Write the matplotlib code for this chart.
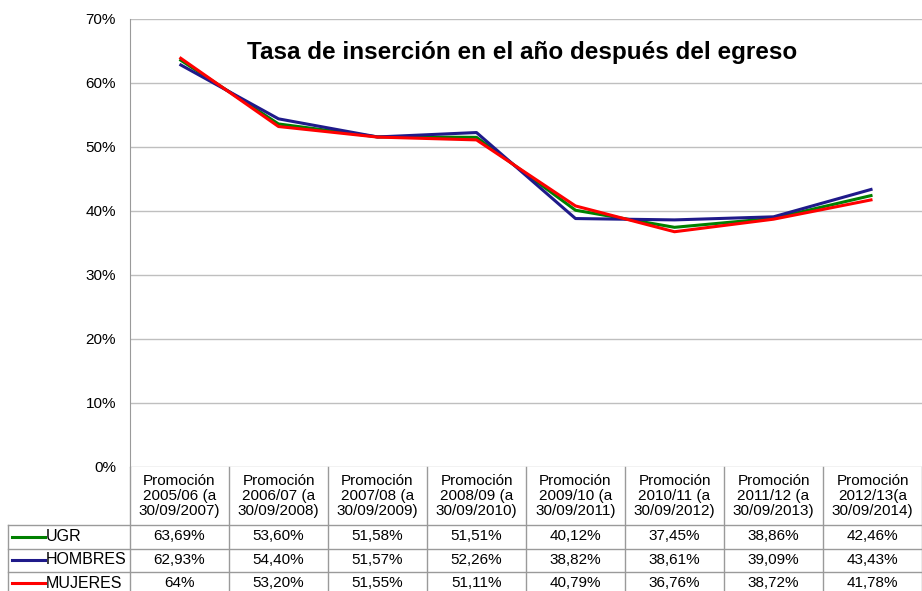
import numpy as np
import matplotlib.pyplot as plt
from matplotlib.ticker import FuncFormatter

plt.rcParams["font.family"] = ["Liberation Sans", "DejaVu Sans"]

categories = [
    "Promoción\n2005/06 (a\n30/09/2007)",
    "Promoción\n2006/07 (a\n30/09/2008)",
    "Promoción\n2007/08 (a\n30/09/2009)",
    "Promoción\n2008/09 (a\n30/09/2010)",
    "Promoción\n2009/10 (a\n30/09/2011)",
    "Promoción\n2010/11 (a\n30/09/2012)",
    "Promoción\n2011/12 (a\n30/09/2013)",
    "Promoción\n2012/13(a\n30/09/2014)",
]
series_names = ["UGR", "HOMBRES", "MUJERES"]
ugr = [63.69, 53.60, 51.58, 51.51, 40.12, 37.45, 38.86, 42.46]
hombres = [62.93, 54.40, 51.57, 52.26, 38.82, 38.61, 39.09, 43.43]
mujeres = [64.0, 53.20, 51.55, 51.11, 40.79, 36.76, 38.72, 41.78]
ugr_labels = ["63,69%", "53,60%", "51,58%", "51,51%", "40,12%", "37,45%", "38,86%", "42,46%"]
hombres_labels = ["62,93%", "54,40%", "51,57%", "52,26%", "38,82%", "38,61%", "39,09%", "43,43%"]
mujeres_labels = ["64%", "53,20%", "51,55%", "51,11%", "40,79%", "36,76%", "38,72%", "41,78%"]

colors = ["#008000", "#1F1A8A", "#FF0000"]
grid_col = "#BFBFBF"
axis_col = "#9A9A9A"

W, H = 922, 591
fig = plt.figure(figsize=(W / 100, H / 100), dpi=100)

# pixel layout
px_left, px_top, px_bottom = 130, 19, 467
tab_left = 8
n = len(categories)

ax = fig.add_axes([px_left / W, 1 - px_bottom / H, 1 - px_left / W, (px_bottom - px_top) / H])
x = np.arange(n) + 0.5
all_vals = [ugr, hombres, mujeres]
for vals, c, name in zip(all_vals, colors, series_names):
    ax.plot(x, vals, color=c, lw=2.2, label=name, solid_capstyle="butt")
ax.set_xlim(0, n)
ax.set_ylim(0, 70)
ax.set_yticks(np.arange(0, 71, 10))
ax.yaxis.set_major_formatter(FuncFormatter(lambda v, p: f"{int(v)}%"))
ax.tick_params(axis="y", length=0, pad=10, labelsize=11)
ax.set_xticks([])
ax.grid(axis="y", color=grid_col, lw=1)
for s in ["top", "right", "bottom"]:
    ax.spines[s].set_visible(False)
ax.spines["left"].set_color(axis_col)
ax.set_axisbelow(True)
ax.set_title("Tasa de inserción en el año después del egreso", fontsize=17.5,
             fontweight="bold", x=0.495, y=0.893)

# data table below the plot, x in the same category units
unit = (W - px_left) / n
tx0 = -(px_left - tab_left) / unit
tab = fig.add_axes([tab_left / W, 0, 1 - tab_left / W, (H - px_bottom) / H])
tab.set_xlim(tx0, n)
tab.set_ylim(H, px_bottom)
tab.axis("off")

row_lines = [525, 548.5, 572]
row_centers = [536.5, 560, 583]
line_kw = dict(color=axis_col, lw=1, clip_on=False)
for y in row_lines:
    tab.plot([tx0, n], [y, y], **line_kw)
for i in range(n + 1):
    tab.plot([i, i], [px_bottom, H], **line_kw)
tab.plot([tx0, tx0], [row_lines[0], H], **line_kw)

for i, cat in enumerate(categories):
    tab.text(i + 0.5, 496, cat, ha="center", va="center", fontsize=11, linespacing=1.12)

for r, labels in enumerate([ugr_labels, hombres_labels, mujeres_labels]):
    yc = row_centers[r]
    for i, lab in enumerate(labels):
        tab.text(i + 0.5, yc, lab, ha="center", va="center", fontsize=11)
    sw0 = tx0 + 4 / unit
    sw1 = tx0 + 37 / unit
    tab.plot([sw0, sw1], [yc, yc], color=colors[r], lw=2.2)
    tab.text(sw1 + 1 / unit, yc, series_names[r], ha="left", va="center", fontsize=11.5)

fig.savefig("out.png", dpi=100)
